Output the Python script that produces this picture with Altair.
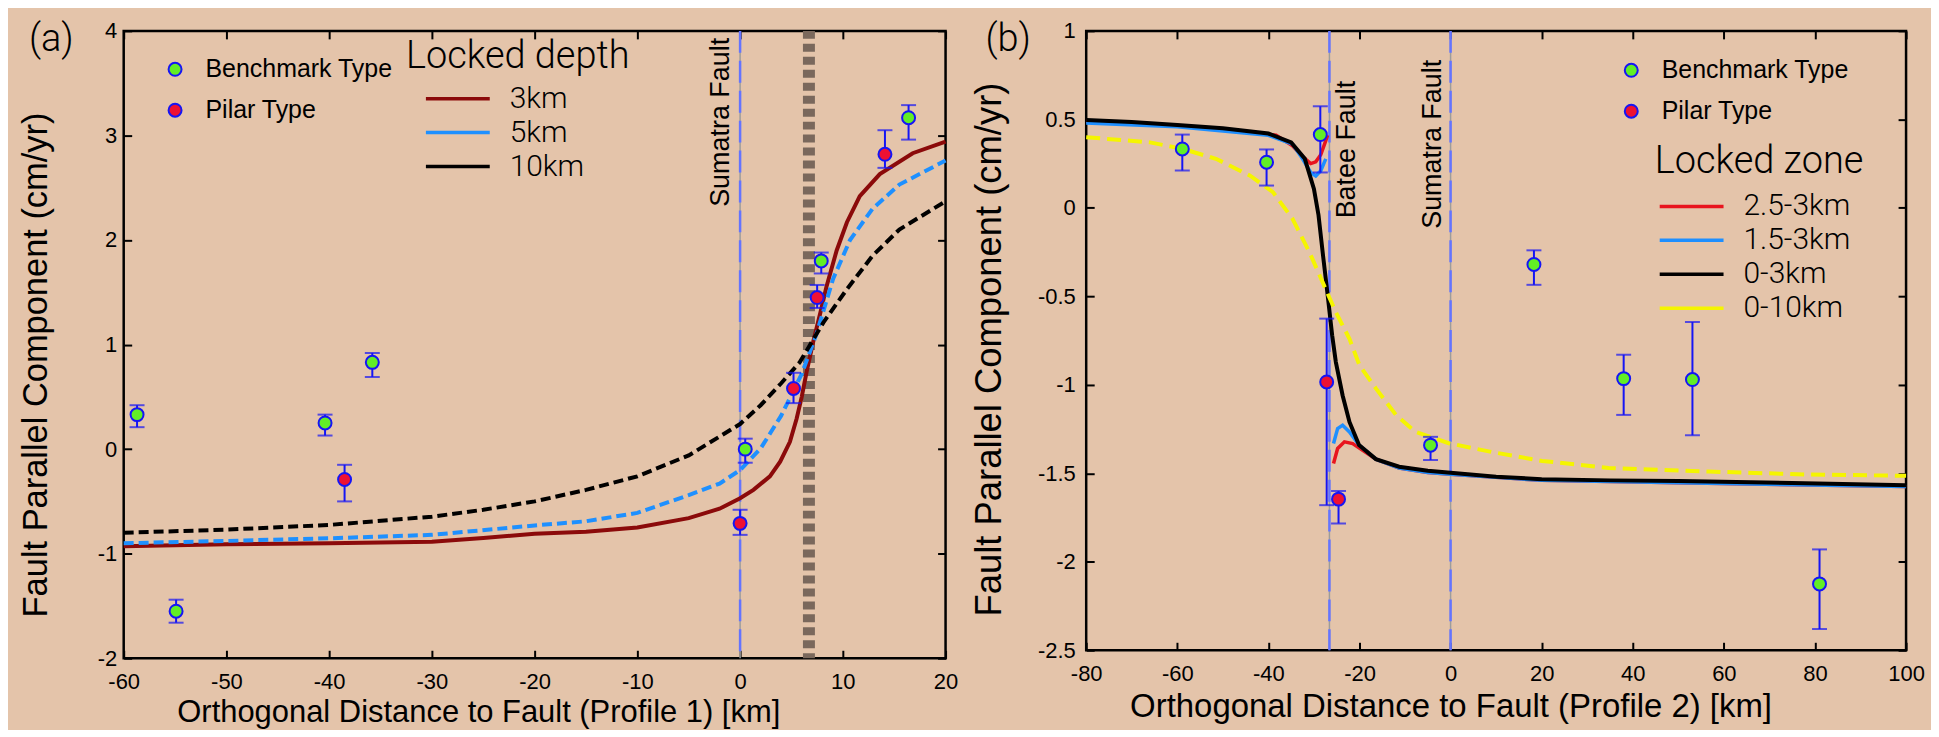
import altair as alt
import pandas as pd

# ---------------- Panel (a): Profile 1 ----------------
a_bm_x = [-58.7, -54.9, -40.4, -35.8, 0.5, 7.9, 16.4]
a_bm_y = [0.33, -1.55, 0.25, 0.83, 0.00, 1.80, 3.17]
a_bm_lo = [0.21, -1.66, 0.13, 0.69, -0.13, 1.68, 2.96]
a_bm_hi = [0.42, -1.44, 0.33, 0.92, 0.10, 1.88, 3.29]

a_pl_x = [-38.5, 0.0, 5.2, 7.5, 14.1]
a_pl_y = [-0.29, -0.71, 0.58, 1.45, 2.82]
a_pl_lo = [-0.50, -0.82, 0.44, 1.35, 2.69]
a_pl_hi = [-0.15, -0.58, 0.73, 1.57, 3.05]

a_3km_x = [-60, -50, -40, -30, -25, -20, -15, -10, -5, -2, 0, 1.3, 2.9, 3.9, 4.85, 5.5, 6.0, 6.5, 7.1,
           7.8, 8.4, 9.4, 10.4, 11.65, 13.6, 16.8, 20]
a_3km_y = [-0.93, -0.91, -0.90, -0.885, -0.85, -0.81, -0.79, -0.75, -0.66, -0.57, -0.47, -0.39, -0.26,
           -0.12, 0.07, 0.29, 0.50, 0.75, 1.02, 1.30, 1.55, 1.90, 2.17, 2.42, 2.63, 2.83, 2.94]
a_5km_x = [-60, -50, -40, -30, -20, -15, -10, -5, -2, 0, 2, 4, 6, 7.4, 9.06, 10.7, 12.9, 15.5, 20]
a_5km_y = [-0.90, -0.878, -0.853, -0.82, -0.73, -0.69, -0.61, -0.44, -0.33, -0.20, 0.006, 0.32, 0.72,
           1.09, 1.63, 2.00, 2.30, 2.53, 2.76]
a_10km_x = [-60, -50, -40, -30, -25, -20, -15, -10, -5, 0, 2, 4, 5.8, 8.1, 10.4, 12.9, 15.5, 20]
a_10km_y = [-0.80, -0.77, -0.725, -0.646, -0.58, -0.50, -0.39, -0.26, -0.06, 0.24, 0.42, 0.63, 0.83,
            1.21, 1.53, 1.85, 2.10, 2.37]

a_series = ["3km", "5km", "10km"]
a_colors = ["#8B0A0A", "#1E90FF", "#000000"]
a_fault_x = [0.0]
a_fault_label = ["Sumatra Fault"]
a_zone_x = [6.7]
a_xdomain = [-60, 20]
a_ydomain = [-2, 4]
a_xticks = [-60, -50, -40, -30, -20, -10, 0, 10, 20]
a_yticks = [-2, -1, 0, 1, 2, 3, 4]

# ---------------- Panel (b): Profile 2 ----------------
b_bm_x = [-58.9, -40.4, -28.6, -4.4, 18.3, 38.0, 53.1, 81.0]
b_bm_y = [0.333, 0.258, 0.414, -1.341, -0.32, -0.965, -0.97, -2.125]
b_bm_lo = [0.211, 0.126, 0.20, -1.425, -0.435, -1.17, -1.285, -2.38]
b_bm_hi = [0.414, 0.33, 0.574, -1.294, -0.24, -0.83, -0.645, -1.93]

b_pl_x = [-27.2, -24.6]
b_pl_y = [-0.984, -1.646]
b_pl_lo = [-1.68, -1.783]
b_pl_hi = [-0.626, -1.60]

b_red_l_x = [-80, -60, -40, -38.3, -34.7, -32.5, -30.7, -29.6, -28.5, -27.4, -27.0]
b_red_l_y = [0.49, 0.465, 0.415, 0.41, 0.35, 0.29, 0.25, 0.26, 0.30, 0.38, 0.41]
b_red_r_x = [-25.7, -24.8, -23.3, -21.5, -19.3, -16.4, -11.3, -5, 0, 20, 50, 100]
b_red_r_y = [-1.445, -1.36, -1.322, -1.332, -1.37, -1.42, -1.47, -1.495, -1.505, -1.54, -1.553, -1.575]
b_blue_l_x = [-80, -60, -40, -34.7, -32.5, -30.7, -29.6, -28.5, -27.4]
b_blue_l_y = [0.48, 0.458, 0.41, 0.36, 0.277, 0.20, 0.18, 0.21, 0.277]
b_blue_r_x = [-25.7, -24.8, -23.7, -22.2, -20.1, -16.4, -11.3, -5, 0, 20, 50, 100]
b_blue_r_y = [-1.332, -1.247, -1.228, -1.266, -1.34, -1.42, -1.47, -1.495, -1.505, -1.54, -1.553, -1.575]
b_black_x = [-80, -70, -60, -50, -40, -35, -32, -30, -29, -28, -27, -26, -25.2, -23.7, -22.2, -20.1,
             -16.4, -11.3, -5, 0, 10, 20, 35, 50, 75, 100]
b_black_y = [0.497, 0.485, 0.468, 0.45, 0.42, 0.37, 0.277, 0.107, -0.04, -0.27, -0.49, -0.72, -0.87,
             -1.06, -1.21, -1.34, -1.42, -1.463, -1.485, -1.497, -1.52, -1.533, -1.54, -1.544, -1.555, -1.567]
b_yel_x = [-80, -66, -58.8, -51.5, -44.1, -39, -34.7, -31, -28.1, -25.2, -22.2, -20, -16.4, -12, -7.7,
           -0.4, 9.1, 20.1, 34.7, 56.6, 78.5, 100]
b_yel_y = [0.399, 0.37, 0.333, 0.277, 0.183, 0.089, -0.062, -0.25, -0.42, -0.589, -0.74, -0.89, -1.02,
           -1.17, -1.266, -1.33, -1.38, -1.43, -1.47, -1.49, -1.507, -1.514]

b_series = ["2.5-3km", "1.5-3km", "0-3km", "0-10km"]
b_colors = ["#E8141E", "#1E8FFF", "#000000", "#F5F500"]
b_fault_x = [-26.6, 0.0]
b_fault_label = ["Batee Fault", "Sumatra Fault"]
b_xdomain = [-80, 100]
b_ydomain = [-2.5, 1]
b_xticks = [-80, -60, -40, -20, 0, 20, 40, 60, 80, 100]
b_yticks = [-2.5, -2, -1.5, -1, -0.5, 0, 0.5, 1]

panel_tags = ["(a)", "(b)"]
types = ["Benchmark Type", "Pilar Type"]
type_colors = ["#62EE26", "#EE1133"]

BG = "#E4C4AA"
BLUE = "#1515F5"
FONT = "Liberation Sans"
THIN = "Roboto"


def pts_df(bx, by, blo, bhi, px, py, plo, phi):
    d1 = pd.DataFrame({"x": bx, "y": by, "lo": blo, "hi": bhi, "type": types[0]})
    d2 = pd.DataFrame({"x": px, "y": py, "lo": plo, "hi": phi, "type": types[1]})
    return pd.concat([d1, d2], ignore_index=True)


def curve(xs, ys, name, seg=0):
    return pd.DataFrame({"x": xs, "y": ys, "series": name, "seg": seg})


def axes(xticks, yticks, xtitle, ytitle, titlex, titley, xtsize, ylabpad, ytitlex, ytitley, ytsize):
    lab = "'' + datum.value"
    xb = alt.Axis(values=xticks, labelExpr=lab, orient="bottom", offset=-8, tickSize=8, domain=False,
                  grid=False, labelPadding=13, labelFlush=False, labelOverlap=False, labelFontSize=22,
                  title=xtitle, titleFontSize=xtsize, titleFont=FONT, titleFontWeight="normal",
                  titleX=titlex, titleY=titley, titleBaseline="alphabetic", titleAlign="center")
    yl = alt.Axis(values=yticks, labelExpr=lab, orient="left", offset=-8, tickSize=8, domain=False,
                  grid=False, labelPadding=ylabpad, labelFlush=False, labelOverlap=False, labelFontSize=22,
                  title=ytitle, titleFontSize=ytsize, titleFont=FONT, titleFontWeight="normal",
                  titleAngle=270, titleX=ytitlex, titleY=ytitley, titleBaseline="alphabetic",
                  titleAlign="center", titleLimit=800)
    xt = alt.Axis(values=xticks, orient="top", offset=-8, tickSize=8, domain=False, grid=False,
                  labels=False, title=None)
    yr = alt.Axis(values=yticks, orient="right", offset=-8, tickSize=8, domain=False, grid=False,
                  labels=False, title=None)
    return xb, yl, xt, yr


def fault_layers(df, xs):
    gray = alt.Chart(df).mark_rule(color="#9C9C9C", strokeWidth=1.5).encode(
        x=alt.X("x:Q", scale=xs, axis=None))
    dash = alt.Chart(df).mark_rule(color="#6474FF", strokeWidth=2.5, strokeDash=[22, 8]).encode(
        x=alt.X("x:Q", scale=xs, axis=None))
    return [gray, dash]


def label_layer(df, xs, ys, dx, dy):
    return alt.Chart(df).mark_text(angle=270, align="right", baseline="alphabetic", dx=dx, dy=dy,
                                   font=FONT, fontSize=27, color="black").encode(
        x=alt.X("x:Q", scale=xs, axis=None), y=alt.Y("y:Q", scale=ys, axis=None), text="label:N")


def tag_layer(tag, xdom, ydom, xs, ys, dx):
    df = pd.DataFrame({"x": [xdom[0]], "y": [ydom[1]], "tag": [tag]})
    return alt.Chart(df).mark_text(align="left", baseline="alphabetic", dx=dx, dy=20, font=THIN,
                                   fontWeight=300, fontSize=38, color="black").encode(
        x=alt.X("x:Q", scale=xs, axis=None), y=alt.Y("y:Q", scale=ys, axis=None), text="tag:N")


def point_layers(df, xs, ys, legx, legy):
    rule = alt.Chart(df).mark_rule(color=BLUE, strokeWidth=2).encode(
        x=alt.X("x:Q", scale=xs, axis=None), y=alt.Y("lo:Q", scale=ys, axis=None), y2="hi:Q")
    caplo = alt.Chart(df).mark_tick(color=BLUE, thickness=2, size=15, orient="horizontal").encode(
        x=alt.X("x:Q", scale=xs, axis=None), y=alt.Y("lo:Q", scale=ys, axis=None))
    caphi = alt.Chart(df).mark_tick(color=BLUE, thickness=2, size=15, orient="horizontal").encode(
        x=alt.X("x:Q", scale=xs, axis=None), y=alt.Y("hi:Q", scale=ys, axis=None))
    pts = alt.Chart(df).mark_point(shape="circle", filled=True, size=169, stroke=BLUE, strokeWidth=2,
                                   opacity=1).encode(
        x=alt.X("x:Q", scale=xs, axis=None), y=alt.Y("y:Q", scale=ys, axis=None),
        fill=alt.Fill("type:N", scale=alt.Scale(domain=types, range=type_colors),
                      legend=alt.Legend(title=None, orient="none", legendX=legx, legendY=legy,
                                        symbolType="circle", symbolSize=169, symbolStrokeColor=BLUE,
                                        symbolStrokeWidth=2, labelFont=FONT, labelFontSize=25,
                                        labelColor="black", labelOffset=18, rowPadding=15, padding=0,
                                        labelLimit=400)))
    return [rule, caplo, caphi, pts]


def line_legend(title, legx, legy, symoff, tpad):
    return alt.Legend(title=title, orient="none", legendX=legx, legendY=legy, symbolType="stroke",
                      symbolSize=4096, symbolStrokeWidth=3.5, symbolOffset=symoff, labelOffset=18,
                      labelFont=THIN, labelFontWeight=300, labelFontSize=30, labelColor="black",
                      titleFont=THIN, titleFontWeight=300, titleFontSize=38, titleColor="black",
                      titlePadding=tpad, clipHeight=34, rowPadding=0, padding=0, titleLimit=500,
                      labelLimit=300)


# ---------------- build panel (a) ----------------
W_A, H_A = 824, 629
xs_a = alt.Scale(domain=a_xdomain, nice=False, zero=False)
ys_a = alt.Scale(domain=a_ydomain, nice=False, zero=False)
xb, yl, xt, yr = axes(a_xticks, a_yticks, "Orthogonal Distance to Fault (Profile 1) [km]",
                      "Fault Parallel Component (cm/yr)", 355.5, 71, 31, 7, -85, 334.5, 34.5)

a_fault_df = pd.DataFrame({"x": a_fault_x, "y": [a_ydomain[1]] * len(a_fault_x), "label": a_fault_label})
a_zone_df = pd.DataFrame({"x": a_zone_x})
zone = alt.Chart(a_zone_df).mark_rule(color="#7A685C", strokeWidth=12, strokeDash=[8, 5]).encode(
    x=alt.X("x:Q", scale=xs_a, axis=None))

red_a = alt.Chart(curve(a_3km_x, a_3km_y, "3km")).mark_line(strokeWidth=4).encode(
    x=alt.X("x:Q", scale=xs_a, axis=xb), y=alt.Y("y:Q", scale=ys_a, axis=yl),
    stroke=alt.Stroke("series:N", scale=alt.Scale(domain=a_series, range=a_colors),
                      legend=line_legend("Locked depth", 283, 7, 18, 6)))
blue_a = alt.Chart(curve(a_5km_x, a_5km_y, "5km")).mark_line(strokeWidth=4, strokeDash=[10, 5],
                                                              color=a_colors[1]).encode(
    x=alt.X("x:Q", scale=xs_a, axis=xt), y=alt.Y("y:Q", scale=ys_a, axis=yr))
black_a = alt.Chart(curve(a_10km_x, a_10km_y, "10km")).mark_line(strokeWidth=4, strokeDash=[10, 5],
                                                                 color=a_colors[2]).encode(
    x=alt.X("x:Q", scale=xs_a, axis=None), y=alt.Y("y:Q", scale=ys_a, axis=None))

a_pts = pts_df(a_bm_x, a_bm_y, a_bm_lo, a_bm_hi, a_pl_x, a_pl_y, a_pl_lo, a_pl_hi)

panel_a = alt.layer(
    *fault_layers(a_fault_df, xs_a), zone,
    label_layer(a_fault_df, xs_a, ys_a, -7, -11),
    red_a, blue_a, black_a,
    *point_layers(a_pts, xs_a, ys_a, 39, 26),
    tag_layer(panel_tags[0], a_xdomain, a_ydomain, xs_a, ys_a, -95),
).resolve_axis(x="independent", y="independent").properties(width=W_A, height=H_A)

# ---------------- build panel (b) ----------------
W_B, H_B = 822, 621
xs_b = alt.Scale(domain=b_xdomain, nice=False, zero=False)
ys_b = alt.Scale(domain=b_ydomain, nice=False, zero=False)
xb2, yl2, xt2, yr2 = axes(b_xticks, b_yticks, "Orthogonal Distance to Fault (Profile 2) [km]",
                          "Fault Parallel Component (cm/yr)", 365.3, 74, 33, 11, -94, 319, 36.5)

b_fault_df = pd.DataFrame({"x": b_fault_x, "y": [b_ydomain[1]] * len(b_fault_x), "label": b_fault_label})

red_b = alt.Chart(pd.concat([curve(b_red_l_x, b_red_l_y, "2.5-3km", 0),
                             curve(b_red_r_x, b_red_r_y, "2.5-3km", 1)])).mark_line(strokeWidth=3.5).encode(
    x=alt.X("x:Q", scale=xs_b, axis=xb2), y=alt.Y("y:Q", scale=ys_b, axis=yl2), detail="seg:N",
    stroke=alt.Stroke("series:N", scale=alt.Scale(domain=b_series, range=b_colors),
                      legend=line_legend("Locked zone", 570, 112, 3, 9)))
blue_b = alt.Chart(pd.concat([curve(b_blue_l_x, b_blue_l_y, "1.5-3km", 0),
                              curve(b_blue_r_x, b_blue_r_y, "1.5-3km", 1)])).mark_line(
    strokeWidth=3.5, color=b_colors[1]).encode(
    x=alt.X("x:Q", scale=xs_b, axis=xt2), y=alt.Y("y:Q", scale=ys_b, axis=yr2), detail="seg:N")
black_b = alt.Chart(curve(b_black_x, b_black_y, "0-3km")).mark_line(strokeWidth=4, color=b_colors[2]).encode(
    x=alt.X("x:Q", scale=xs_b, axis=None), y=alt.Y("y:Q", scale=ys_b, axis=None))
yel_b = alt.Chart(curve(b_yel_x, b_yel_y, "0-10km")).mark_line(strokeWidth=4, strokeDash=[14, 7],
                                                               color=b_colors[3]).encode(
    x=alt.X("x:Q", scale=xs_b, axis=None), y=alt.Y("y:Q", scale=ys_b, axis=None))

b_pts = pts_df(b_bm_x, b_bm_y, b_bm_lo, b_bm_hi, b_pl_x, b_pl_y, b_pl_lo, b_pl_hi)

panel_b = alt.layer(
    *fault_layers(b_fault_df, xs_b),
    label_layer(b_fault_df.iloc[[0]], xs_b, ys_b, -50, 26),
    label_layer(b_fault_df.iloc[[1]], xs_b, ys_b, -29, -10),
    red_b, blue_b, black_b, yel_b,
    *point_layers(b_pts, xs_b, ys_b, 534, 27),
    tag_layer(panel_tags[1], b_xdomain, b_ydomain, xs_b, ys_b, -101),
).resolve_axis(x="independent", y="independent").properties(width=W_B, height=H_B)

chart = alt.hconcat(panel_a, panel_b, spacing=10).resolve_scale(
    stroke="independent", fill="independent"
).resolve_legend(stroke="independent", fill="independent").properties(
    padding={"left": 9, "top": 9, "right": 5, "bottom": 0}, background=BG
).configure_view(stroke="black", strokeWidth=2.5).configure_axis(
    labelFont=FONT, labelColor="black", tickColor="black", tickWidth=2, titleColor="black"
)

chart.save("out.html", embed_options={"renderer": "svg", "actions": False})
